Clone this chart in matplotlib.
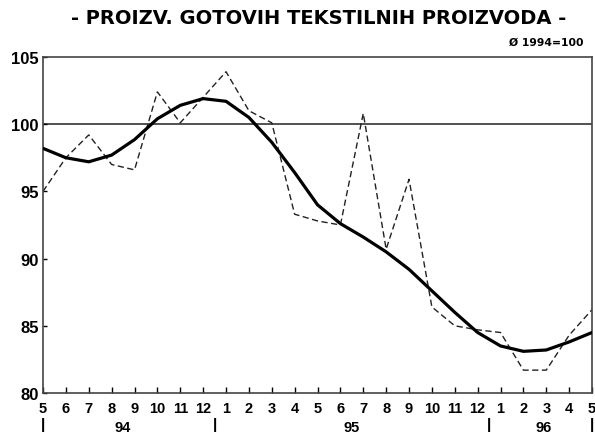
import matplotlib
matplotlib.use("Agg")
import matplotlib.pyplot as plt
import matplotlib.transforms as mtransforms

plt.rcParams['font.family'] = ['Liberation Sans', 'DejaVu Sans']

month_labels = ["5", "6", "7", "8", "9", "10", "11", "12",
                "1", "2", "3", "4", "5", "6", "7", "8", "9", "10", "11", "12",
                "1", "2", "3", "4", "5"]
years = ["94", "95", "96"]
year_label_pos = [3.5, 13.5, 21.9]
year_sep_pos = [0, 7.5, 19.5, 24]

actual = [95.0, 97.5, 99.2, 97.0, 96.6, 102.4, 100.1, 102.0,
          103.9, 101.0, 100.1, 93.3, 92.8, 92.5, 100.8, 90.7, 95.9, 86.4, 85.0, 84.7,
          84.5, 81.7, 81.7, 84.3, 86.2]
trend = [98.2, 97.5, 97.2, 97.7, 98.85, 100.4, 101.4, 101.9,
         101.7, 100.5, 98.65, 96.4, 94.0, 92.6, 91.6, 90.5, 89.2, 87.6, 86.0, 84.5,
         83.5, 83.1, 83.2, 83.8, 84.5]
base_value = 100

fig = plt.figure(figsize=(5.95, 4.39), dpi=100)
ax = fig.add_axes([0.0723, 0.1025, 0.9227, 0.7655])

x = list(range(len(month_labels)))
ax.axhline(base_value, color="#333333", lw=1.2, zorder=1)
ax.plot(x, actual, color="#222222", lw=1.0, dashes=(4.5, 2.5), zorder=2)
ax.plot(x, trend, color="black", lw=2.3, zorder=3, solid_capstyle="round",
        solid_joinstyle="round")

ax.set_xlim(0, 24)
ax.set_ylim(80, 105)
ax.set_yticks([80, 85, 90, 95, 100, 105])
ax.set_yticklabels(["80", "85", "90", "95", "100", "105"], fontsize=12, fontweight="bold")
ax.set_xticks(x)
ax.set_xticklabels(month_labels, fontsize=10.5, fontweight="bold")
ax.tick_params(axis="x", direction="in", length=4, width=1, pad=6)
ax.tick_params(axis="y", direction="in", length=3, width=1, pad=3)
for s in ax.spines.values():
    s.set_color("#444444")
    s.set_linewidth(1.2)

trans = mtransforms.blended_transform_factory(ax.transData, ax.transAxes)
for lab, p in zip(years, year_label_pos):
    ax.text(p, -0.101, lab, transform=trans, ha="center", va="center",
            fontsize=10.5, fontweight="bold")
for p in year_sep_pos:
    ax.text(p, -0.092, "|", transform=trans, ha="center", va="center",
            fontsize=11, fontweight="bold")

fig.text(0.535, 0.958, "- PROIZV. GOTOVIH TEKSTILNIH PROIZVODA -", ha="center",
         va="center", fontsize=14, fontweight="bold", family="DejaVu Sans")
fig.text(0.98, 0.903, "Ø 1994=100", ha="right", va="center", fontsize=7.8,
         fontweight="bold", family="DejaVu Sans")

fig.savefig("out.png", dpi=100)
